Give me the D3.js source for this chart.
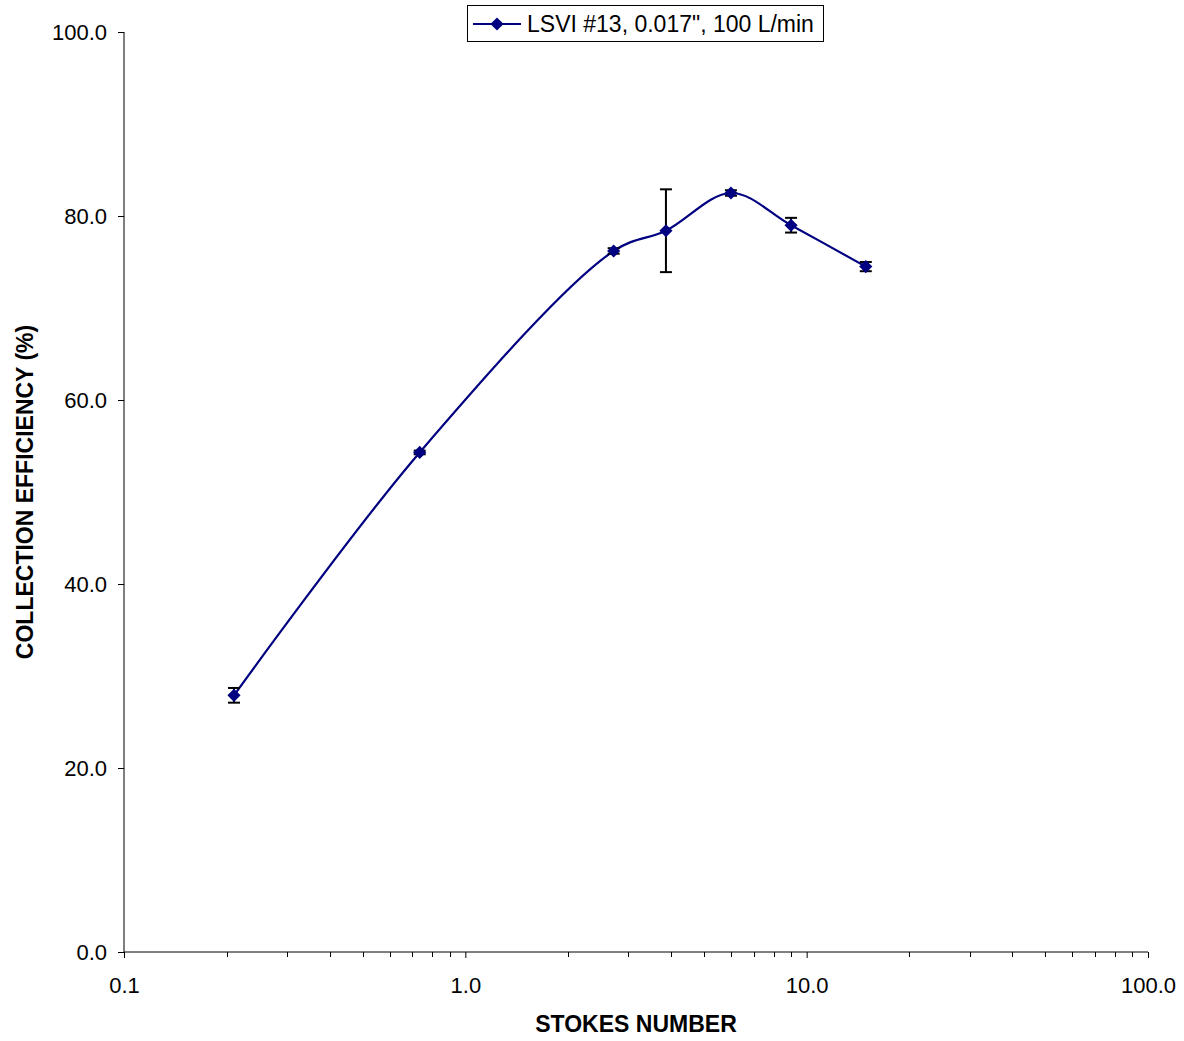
<!DOCTYPE html>
<html>
<head>
  <meta charset="utf-8">
  <title>Collection Efficiency</title>
  <style>
    body { margin: 0; background: #fff; font-family: "Liberation Sans", Arial, sans-serif; }
    .axis text { font-size: 22px; fill: #000; font-family: "Liberation Sans", Arial, sans-serif; }
    .axis path, .axis line { stroke: #000; }
    .title { font-size: 23px; font-weight: bold; }
  </style>
  <script src="https://d3js.org/d3.v7.min.js"></script>
</head>
<body>
  <div id="chart"></div>
  <script>
    // data
    var stokes = [0.21, 0.735, 2.72, 3.87, 6.0, 9.0, 14.9];
    var efficiency = [27.9, 54.3, 76.2, 78.4, 82.5, 79.0, 74.5];
    var errors = [0.8, 0.2, 0.3, 4.5, 0.3, 0.8, 0.5];
    var xTicks = [0.1, 1, 10, 100];
    var yTicks = [0, 20, 40, 60, 80, 100];
    var seriesName = "LSVI #13, 0.017\", 100 L/min";

    var width = 1184, height = 1041;
    var margin = { top: 32, right: 36, bottom: 89, left: 124 };

    var svg = d3.select("#chart").append("svg")
      .attr("width", width)
      .attr("height", height);

    var x = d3.scaleLog().domain([0.1, 100]).range([margin.left, width - margin.right]);
    var y = d3.scaleLinear().domain([0, 100]).range([height - margin.bottom, margin.top]);

    // x axis with minor log ticks
    var minor = [];
    [0.1, 1, 10].forEach(function (d) {
      for (var i = 2; i <= 9; i++) minor.push(d * i);
    });

    var xAxis = svg.append("g")
      .attr("class", "axis")
      .attr("transform", "translate(0," + y(0) + ")")
      .call(d3.axisBottom(x).tickValues(xTicks).tickSize(6).tickFormat(d3.format(".1f")));
    xAxis.select(".domain").attr("d", "M" + x(0.1) + ",0H" + x(100));
    xAxis.selectAll(".tick text").attr("dy", "0").attr("y", 41);

    svg.append("g")
      .selectAll("line")
      .data(minor)
      .enter().append("line")
      .attr("x1", function (d) { return Math.round(x(d)) + 0.5; })
      .attr("x2", function (d) { return Math.round(x(d)) + 0.5; })
      .attr("y1", y(0))
      .attr("y2", y(0) + 5)
      .attr("stroke", "#000");

    var yAxis = svg.append("g")
      .attr("class", "axis")
      .attr("transform", "translate(" + x(0.1) + ",0)")
      .call(d3.axisLeft(y).tickValues(yTicks).tickSize(6).tickFormat(d3.format(".1f")));
    yAxis.select(".domain").attr("d", "M0," + y(0) + "V" + y(100));
    yAxis.selectAll(".tick text").attr("x", -17);

    // axis titles
    svg.append("text")
      .attr("class", "title")
      .attr("x", (x(0.1) + x(100)) / 2)
      .attr("y", 1032)
      .attr("text-anchor", "middle")
      .text("STOKES NUMBER");

    svg.append("text")
      .attr("class", "title")
      .attr("transform", "translate(33," + ((y(0) + y(100)) / 2) + ") rotate(-90)")
      .attr("text-anchor", "middle")
      .text("COLLECTION EFFICIENCY (%)");

    var data = stokes.map(function (d, i) {
      return { x: d, y: efficiency[i], e: errors[i] };
    });

    // smoothed line
    var line = d3.line()
      .x(function (d) { return x(d.x); })
      .y(function (d) { return y(d.y); })
      .curve(d3.curveCatmullRom.alpha(0.5));

    svg.append("path")
      .datum(data)
      .attr("d", line)
      .attr("fill", "none")
      .attr("stroke", "#000080")
      .attr("stroke-width", 2.2);

    // error bars
    var eb = svg.append("g").attr("stroke", "#000").attr("stroke-width", 2);
    data.forEach(function (d) {
      var cx = x(d.x);
      eb.append("line").attr("x1", cx).attr("x2", cx).attr("y1", y(d.y - d.e)).attr("y2", y(d.y + d.e));
      eb.append("line").attr("x1", cx - 6).attr("x2", cx + 6).attr("y1", y(d.y - d.e)).attr("y2", y(d.y - d.e));
      eb.append("line").attr("x1", cx - 6).attr("x2", cx + 6).attr("y1", y(d.y + d.e)).attr("y2", y(d.y + d.e));
    });

    // diamond markers
    var diamond = d3.symbol().type(d3.symbolDiamond2).size(110);
    svg.append("g")
      .selectAll("path")
      .data(data)
      .enter().append("path")
      .attr("d", diamond)
      .attr("transform", function (d) { return "translate(" + x(d.x) + "," + y(d.y) + ")"; })
      .attr("fill", "#000080");

    // legend
    var lg = svg.append("g");
    lg.append("rect")
      .attr("x", 467.5).attr("y", 5.5)
      .attr("width", 356).attr("height", 36)
      .attr("fill", "#fff").attr("stroke", "#000");
    lg.append("line")
      .attr("x1", 473).attr("x2", 521).attr("y1", 24).attr("y2", 24)
      .attr("stroke", "#000080").attr("stroke-width", 2);
    lg.append("path")
      .attr("d", diamond)
      .attr("transform", "translate(497,24)")
      .attr("fill", "#000080");
    lg.append("text")
      .attr("x", 527).attr("y", 32)
      .style("font-size", "23px")
      .text(seriesName);
  </script>
</body>
</html>
